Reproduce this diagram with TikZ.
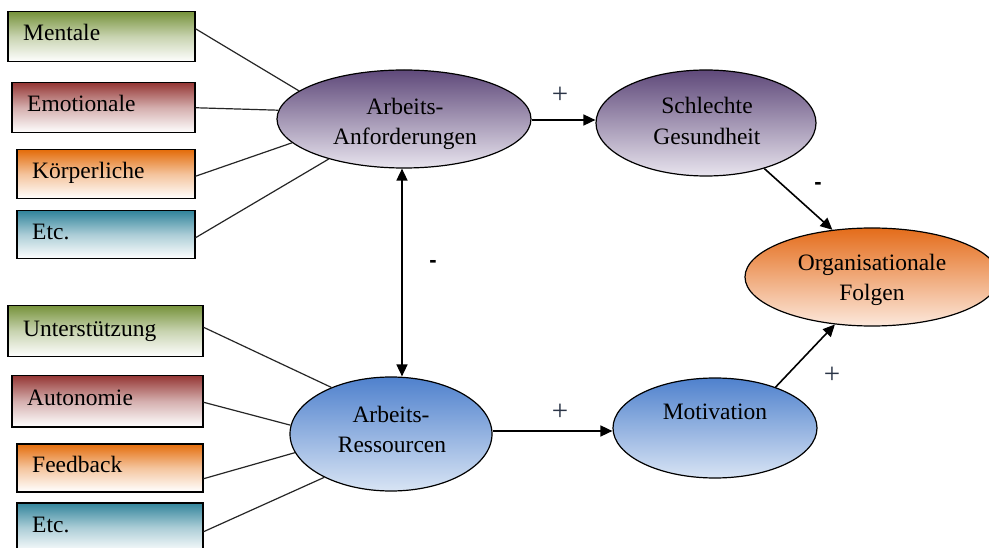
\documentclass[tikz,border=0pt]{standalone}
\usepackage{fontspec}
\setmainfont{Liberation Serif}
\newfontfamily\signfont{Liberation Sans}
\usetikzlibrary{shapes.geometric,arrows.meta}

\definecolor{cGreen}{HTML}{77933C}
\definecolor{cRed}{HTML}{953735}
\definecolor{cOrange}{HTML}{E46C0A}
\definecolor{cTeal}{HTML}{31849B}
\definecolor{cPurpleTop}{HTML}{5F497A}
\definecolor{cPurpleBot}{HTML}{E8E4EE}
\definecolor{cBlueTop}{HTML}{4F81CD}
\definecolor{cBlueBot}{HTML}{D8E4F4}
\definecolor{cOrgTop}{HTML}{E46C1A}
\definecolor{cOrgBot}{HTML}{FCE8DC}
\definecolor{cPlus}{HTML}{2A3446}

\begin{document}
\begin{tikzpicture}[x=1pt,y=-1pt,
  txt/.style={font=\fontsize{23.5}{28}\selectfont, inner sep=0pt, anchor=base},
  ltxt/.style={txt, anchor=base west},
  boxnode/.style={draw=black, line width=1.5pt, anchor=north west,
    minimum height=50pt, inner sep=0pt},
  shade box/.style={top color=#1, bottom color=white, middle color=#1!40!white},
  ell/.style={ellipse, draw=black, line width=1.2pt, inner sep=0pt},
  conn/.style={draw=black!85, line width=1.2pt},
  arr/.style={draw=black, line width=1.6pt, -{Triangle[length=12pt,width=11pt]}},
  dblarr/.style={draw=black, line width=1.6pt,
    {Triangle[length=12pt,width=11pt]}-{Triangle[length=12pt,width=11pt]}},
  plus/.style={font=\fontsize{29}{32}\selectfont, text=cPlus, inner sep=0pt},
  minus/.style={font=\signfont\bfseries\fontsize{22}{26}\selectfont, inner sep=0pt},
]
\useasboundingbox[fill=white] (0,0) rectangle (989,548);

% ---- demand boxes ----
\node[boxnode, minimum width=187pt, shade box=cGreen] (bMent) at (7,11) {};
\node[boxnode, minimum width=183pt, shade box=cRed] (bEmot) at (11,82) {};
\node[boxnode, minimum width=178pt, shade box=cOrange, minimum height=49pt] (bKoer) at (16,149) {};
\node[boxnode, minimum width=178pt, shade box=cTeal, minimum height=48pt] (bEtc1) at (16,210) {};
\node[ltxt] (tMent) at ([xshift=16pt,yshift=-30pt]bMent.north west) {Mentale};
\node[ltxt] (tEmot) at ([xshift=16pt,yshift=-30pt]bEmot.north west) {Emotionale};
\node[ltxt] (tKoer) at ([xshift=16pt,yshift=-30pt]bKoer.north west) {Körperliche};
\node[ltxt] (tEtc1) at ([xshift=16pt,yshift=-30pt]bEtc1.north west) {Etc.};

% ---- resource boxes ----
\node[boxnode, minimum width=195pt, shade box=cGreen, minimum height=51pt] (bUnt) at (7,305) {};
\node[boxnode, minimum width=191pt, shade box=cRed, minimum height=51pt] (bAut) at (11,375) {};
\node[boxnode, minimum width=186pt, shade box=cOrange, minimum height=48pt] (bFeed) at (16,443) {};
\node[boxnode, minimum width=186pt, shade box=cTeal] (bEtc2) at (16,502) {};
\node[ltxt] (tUnt) at ([xshift=16pt,yshift=-32pt]bUnt.north west) {Unterstützung};
\node[ltxt] (tAut) at ([xshift=16pt,yshift=-30pt]bAut.north west) {Autonomie};
\node[ltxt] (tFeed) at ([xshift=16pt,yshift=-29pt]bFeed.north west) {Feedback};
\node[ltxt] (tEtc2) at ([xshift=16pt,yshift=-30pt]bEtc2.north west) {Etc.};

% ---- ellipses ----
\node[ell, minimum width=254pt, minimum height=98pt,
      top color=cPurpleTop, bottom color=cPurpleBot] (anf) at (404,119) {};
\node[ell, minimum width=220pt, minimum height=106pt,
      top color=cPurpleTop, bottom color=cPurpleBot] (schl) at (706,123) {};
\node[ell, minimum width=254pt, minimum height=98pt,
      top color=cOrgTop, bottom color=cOrgBot] (org) at (872,277) {};
\node[ell, minimum width=202pt, minimum height=114pt,
      top color=cBlueTop, bottom color=cBlueBot] (res) at (391,434) {};
\node[ell, minimum width=204pt, minimum height=100pt,
      top color=cBlueTop, bottom color=cBlueBot] (mot) at (715,428) {};

\node[txt] (anf1) at (405,115) {Arbeits-};
\node[txt] (anf2) at (405,145) {Anforderungen};
\node[txt] (schl1) at (707,114) {Schlechte};
\node[txt] (schl2) at (707,145) {Gesundheit};
\node[txt] (org1) at (872,271) {Organisationale};
\node[txt] (org2) at (872,301) {Folgen};
\node[txt] (res1) at (391,422) {Arbeits-};
\node[txt] (res2) at (392,452) {Ressourcen};
\node[txt] (mot1) at (715,419) {Motivation};

% ---- box connectors ----
\draw[conn] ([yshift=8pt]bMent.east) -- (anf.165);
\draw[conn] (bEmot.east) -- (anf.176);
\draw[conn] ([yshift=-2pt]bKoer.east) -- (anf.192);
\draw[conn] ([yshift=-3pt]bEtc1.east) -- (anf.208);
\draw[conn] ([yshift=4pt]bUnt.east) -- (res.142);
\draw[conn] ([yshift=-1pt]bAut.east) -- (res.175);
\draw[conn] ([yshift=-11pt]bFeed.east) -- (res.191);
\draw[conn] ([yshift=-4pt]bEtc2.east) -- (res.213);

% ---- causal arrows ----
\coordinate (vx) at (402,0);
\draw[arr] ([yshift=-1pt]anf.east) -- ([yshift=-1pt]anf.east -| schl.west);
\draw[arr] ([yshift=3pt]res.east) -- ([yshift=3pt]res.east -| mot.west);
\draw[dblarr] (vx |- anf.south) -- (vx |- res.north);
\draw[arr] (schl.322) -- (org.130);
\draw[arr] (mot.34) -- (org.232);

% ---- signs ----
\node[plus] (s1) at (560,95) {+};
\node[plus] (s2) at (560,412) {+};
\node[plus] (s3) at (832,375) {+};
\node[minus] (s4) at (433,264) {-};
\node[minus] (s5) at (818,186) {-};
\end{tikzpicture}
\end{document}
